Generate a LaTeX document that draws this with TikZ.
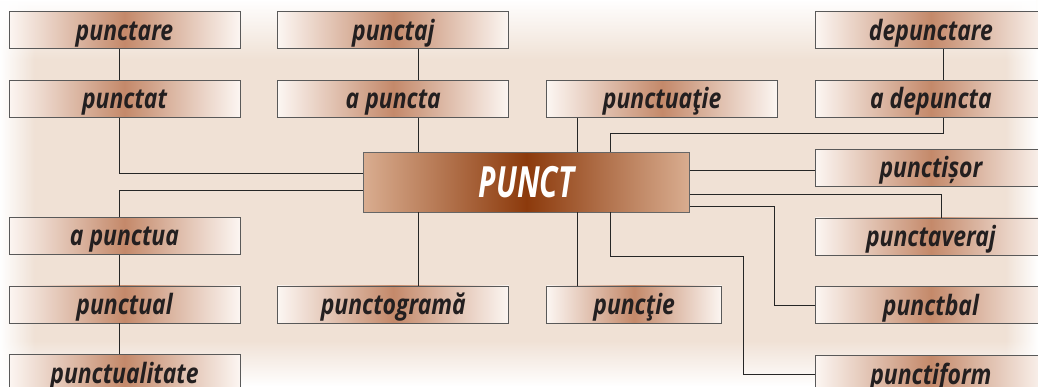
\documentclass[tikz,border=0pt]{standalone}
\usepackage{fontspec}
\setmainfont{Open Sans}
\newfontfamily\wordfont[FakeStretch=0.82]{Open Sans}
\newfontfamily\rootfont[FakeStretch=0.7]{Open Sans}
\usetikzlibrary{positioning,fadings}
\definecolor{paper}{HTML}{F0E1D5}
\definecolor{boxmid}{HTML}{C4896A}
\definecolor{boxrim}{HTML}{FCF6F2}
\definecolor{rootmid}{HTML}{8C3A0C}
\definecolor{rootrim}{HTML}{D9AD90}
\definecolor{ink}{HTML}{231F20}
\tikzfading[name=fadedown, top color=transparent!0, bottom color=transparent!100]
\tikzfading[name=fadeup, top color=transparent!100, bottom color=transparent!0]
\tikzfading[name=faderight, left color=transparent!0, right color=transparent!100]
\tikzfading[name=fadeleft, left color=transparent!100, right color=transparent!0]

\begin{document}
\begin{tikzpicture}[x=1pt,y=-1pt,node distance=31pt and 37pt,semithick]
  \tikzstyle{word}=[draw=black!65,line width=0.8pt,left color=boxrim,right color=boxrim,middle color=boxmid,
                    minimum width=231pt,minimum height=37pt,inner sep=0pt,text=ink,
                    text height=24pt,text depth=4pt,
                    font=\wordfont\bfseries\itshape\fontsize{28}{32}\selectfont]
  \tikzstyle{root}=[draw=black!60,line width=0.8pt,left color=rootrim,right color=rootrim,middle color=rootmid,
                    minimum width=326pt,minimum height=60pt,inner sep=0pt,text=white,
                    font=\rootfont\bfseries\itshape\fontsize{43}{46}\selectfont]
  \tikzstyle{link}=[draw=black!85,line width=0.9pt]

  \useasboundingbox (0,0) rectangle (1038,386);
  \clip (0,0) rectangle (1038,386);
  \fill[paper] (0,0) rectangle (1038,386);
  \fill[white,path fading=fadedown] (0,0) rectangle (1038,60);
  \fill[white,path fading=fadeup] (0,340) rectangle (1038,386);
  \fill[white,path fading=faderight] (0,0) rectangle (35,386);
  \fill[white,path fading=fadeleft] (1005,0) rectangle (1038,386);

	\node[word]	(punctare) at (124.5,30)		{punctare};
	\node[word]	(punctat) [below=of punctare]	{punctat};
	\node[word]	(punctaj) [right=of punctare]	{punctaj};
	\node[word]	(apuncta) [below=of punctaj]	{a puncta};
	\node[word]	(punctuatie) [right=of apuncta]	{punctuaţie};
	\node[word]	(adepuncta) [right=of punctuatie]	{a depuncta};
	\node[word]	(depunctare) [above=of adepuncta]	{depunctare};
	\node[word]	(punctisor) [below=of adepuncta]	{punctișor};
	\node[word]	(punctaveraj) [below=of punctisor]	{punctaveraj};
	\node[word]	(punctbal) [below=of punctaveraj]	{punctbal};
	\node[word]	(punctiform) [below=of punctbal]	{punctiform};
	\node[word]	(apunctua) [below=99pt of punctat]	{a punctua};
	\node[word]	(punctual) [below=of apunctua]	{punctual};
	\node[word]	(punctualitate) [below=of punctual]	{punctualitate};
	\node[word]	(punctograma) [right=of punctual]	{punctogramă};
	\node[word,minimum width=175pt]	(punctie) [right=of punctograma]	{puncţie};
	\node[root]	(punct) at (526.5,182)	{PUNCT};

	\path[link]
		([xshift=-5.5pt]punctare.south) edge ([xshift=-5.5pt]punctat.north)
		([xshift=-5.5pt]apunctua.south) edge ([xshift=-5.5pt]punctual.north)
		([xshift=-5.5pt]punctual.south) edge ([xshift=-5.5pt]punctualitate.north)
		([xshift=25.5pt]punctaj.south) edge ([xshift=25.5pt]apuncta.north)
		([xshift=12.5pt]depunctare.south) edge ([xshift=12.5pt]adepuncta.north)
		([xshift=25.5pt]apuncta.south) edge ([xshift=25.5pt]apuncta.south |- punct.north)
		([xshift=25.5pt]punctograma.north |- punct.south) edge ([xshift=25.5pt]punctograma.north)
		([xshift=50.5pt]punct.north) edge ([xshift=50.5pt]punct.north |- punctuatie.south)
		([xshift=50.5pt]punct.south) edge ([xshift=50.5pt]punct.south |- punctie.north)
		([yshift=12pt]punct.east) edge ([yshift=12pt]punct.east -| punctisor.west);

	\draw[link] ([xshift=-5.5pt]punctat.south) |- ([yshift=9pt]punct.west);
	\draw[link] ([yshift=-8pt]punct.west) -| ([xshift=-5.5pt]apunctua.north);
	\draw[link] ([xshift=12.5pt]adepuncta.south) -- ++(0,16) -| ([xshift=83.5pt]punct.north);
	\draw[link] ([yshift=-12.5pt]punct.east) -| ([xshift=10.5pt]punctaveraj.north);
	\draw[link] ([yshift=-24pt]punct.east) -- ++(85,0) |- (punctbal.west);
	\draw[link] ([xshift=83.5pt]punct.south) -- ++(0,44) -- ++(133,0) |- (punctiform.west);

\end{tikzpicture}
\end{document}
